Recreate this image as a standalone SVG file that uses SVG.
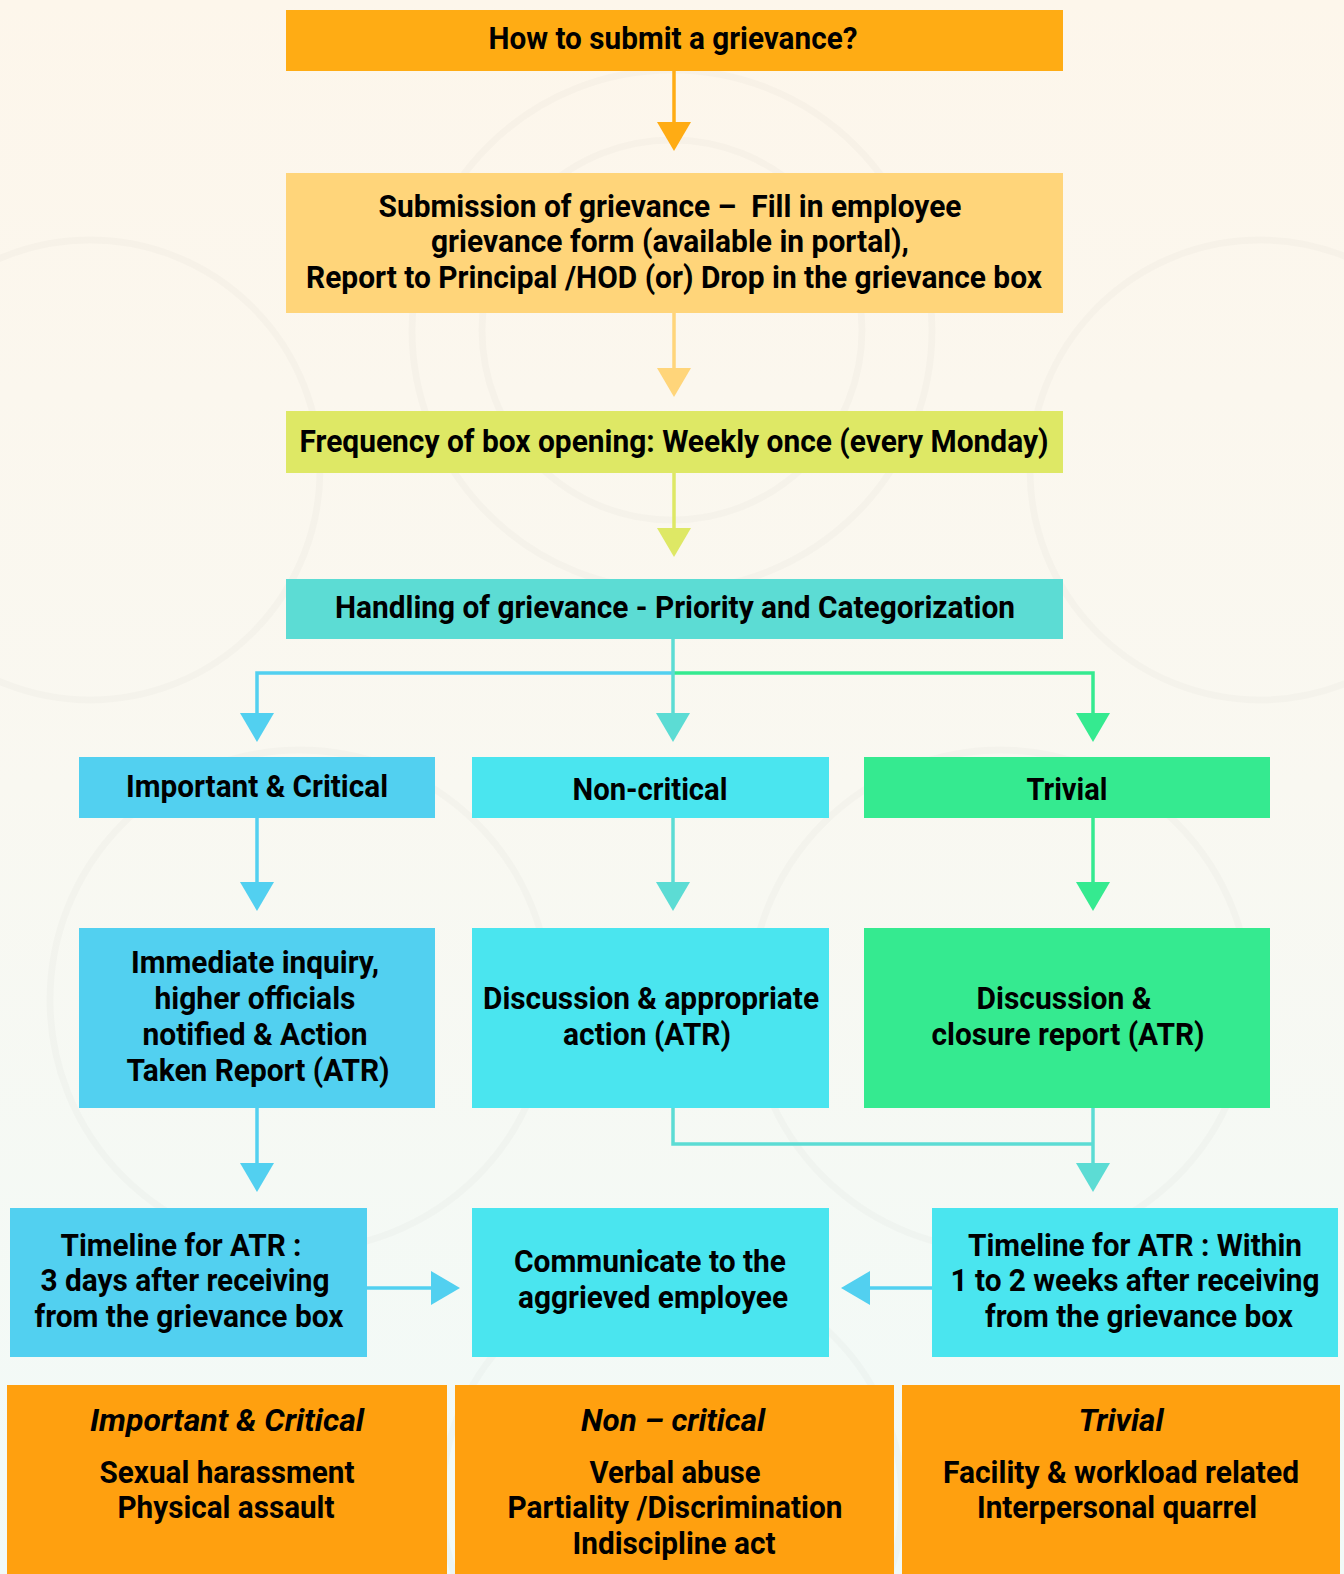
<svg xmlns="http://www.w3.org/2000/svg" width="1344" height="1574" viewBox="0 0 1344 1574">
<defs>
<linearGradient id="bg" x1="0" y1="0" x2="0" y2="1">
<stop offset="0" stop-color="#FDF6EB"/>
<stop offset="0.5" stop-color="#F9F8F1"/>
<stop offset="1" stop-color="#F1FAF8"/>
</linearGradient>
<marker id="mOr" viewBox="0 0 29 34" refX="0" refY="17" markerWidth="29" markerHeight="34" markerUnits="userSpaceOnUse" orient="auto"><path d="M0,0 L29,17 L0,34 Z" fill="#FFAC14"/></marker>
<marker id="mLo" viewBox="0 0 29 34" refX="0" refY="17" markerWidth="29" markerHeight="34" markerUnits="userSpaceOnUse" orient="auto"><path d="M0,0 L29,17 L0,34 Z" fill="#FFD57A"/></marker>
<marker id="mYg" viewBox="0 0 29 34" refX="0" refY="17" markerWidth="29" markerHeight="34" markerUnits="userSpaceOnUse" orient="auto"><path d="M0,0 L29,17 L0,34 Z" fill="#DEE865"/></marker>
<marker id="mBl" viewBox="0 0 29 34" refX="0" refY="17" markerWidth="29" markerHeight="34" markerUnits="userSpaceOnUse" orient="auto"><path d="M0,0 L29,17 L0,34 Z" fill="#52D0F0"/></marker>
<marker id="mTq" viewBox="0 0 29 34" refX="0" refY="17" markerWidth="29" markerHeight="34" markerUnits="userSpaceOnUse" orient="auto"><path d="M0,0 L29,17 L0,34 Z" fill="#5CDCD4"/></marker>
<marker id="mGr" viewBox="0 0 29 34" refX="0" refY="17" markerWidth="29" markerHeight="34" markerUnits="userSpaceOnUse" orient="auto"><path d="M0,0 L29,17 L0,34 Z" fill="#35EA90"/></marker>
</defs>
<style>
.t{font-family:Roboto,"Liberation Sans",sans-serif;font-weight:700;font-size:31px;fill:#000;text-anchor:middle}
.i{font-style:italic}
.c{fill:none;stroke-width:3.5}
.deco{fill:none;stroke:#000;stroke-opacity:0.018;stroke-width:7}
</style>
<rect x="0" y="0" width="1344" height="1574" fill="url(#bg)"/>
<g id="background-pattern">
<circle class="deco" cx="672" cy="330" r="260"/>
<circle class="deco" cx="672" cy="330" r="190"/>
<circle class="deco" cx="90" cy="470" r="230"/>
<circle class="deco" cx="1260" cy="470" r="230"/>
<circle class="deco" cx="300" cy="1000" r="250"/>
<circle class="deco" cx="1000" cy="1000" r="250"/>
<circle class="deco" cx="672" cy="1500" r="230"/>
</g>

<g id="connectors">
<path class="c" stroke="#FFAC14" d="M674,71 V122" marker-end="url(#mOr)"/>
<path class="c" stroke="#FFD57A" d="M674,313 V368" marker-end="url(#mLo)"/>
<path class="c" stroke="#DEE865" d="M674,473 V528" marker-end="url(#mYg)"/>
<path class="c" stroke="#52D0F0" d="M673,673 H257 V713" marker-end="url(#mBl)"/>
<path class="c" stroke="#35EA90" d="M673,673 H1093 V713" marker-end="url(#mGr)"/>
<path class="c" stroke="#5CDCD4" d="M673,639 V713" marker-end="url(#mTq)"/>
<path class="c" stroke="#52D0F0" d="M257,818 V882" marker-end="url(#mBl)"/>
<path class="c" stroke="#5CDCD4" d="M673,818 V882" marker-end="url(#mTq)"/>
<path class="c" stroke="#35EA90" d="M1093,818 V882" marker-end="url(#mGr)"/>
<path class="c" stroke="#52D0F0" d="M257,1108 V1163" marker-end="url(#mBl)"/>
<path class="c" stroke="#5CDCD4" d="M673,1108 V1144 H1093"/>
<path class="c" stroke="#5CDCD4" d="M1093,1108 V1163" marker-end="url(#mTq)"/>
<path class="c" stroke="#52D0F0" d="M367,1288 H431" marker-end="url(#mBl)"/>
<path class="c" stroke="#52D0F0" d="M932,1288 H870" marker-end="url(#mBl)"/>
</g>

<g id="n-title">
<rect x="286" y="10" width="777" height="61" fill="#FFAC14"/>
<text class="t" x="673" y="49" textLength="369" lengthAdjust="spacingAndGlyphs">How to submit a grievance?</text>
</g>
<g id="n-submission">
<rect x="286" y="173" width="777" height="140" fill="#FFD57A"/>
<text class="t" x="670" y="217" textLength="583" lengthAdjust="spacingAndGlyphs" xml:space="preserve">Submission of grievance –  Fill in employee</text>
<text class="t" x="670" y="252" textLength="478" lengthAdjust="spacingAndGlyphs">grievance form (available in portal),</text>
<text class="t" x="674" y="288" textLength="736" lengthAdjust="spacingAndGlyphs">Report to Principal /HOD (or) Drop in the grievance box</text>
</g>
<g id="n-frequency">
<rect x="286" y="411" width="777" height="62" fill="#DEE865"/>
<text class="t" x="674" y="452" textLength="749" lengthAdjust="spacingAndGlyphs">Frequency of box opening: Weekly once (every Monday)</text>
</g>
<g id="n-handling">
<rect x="286" y="579" width="777" height="60" fill="#5CDCD4"/>
<text class="t" x="675" y="618" textLength="680" lengthAdjust="spacingAndGlyphs">Handling of grievance - Priority and Categorization</text>
</g>

<g id="n-important">
<rect x="79" y="757" width="356" height="61" fill="#52D0F0"/>
<text class="t" x="257" y="797" textLength="262" lengthAdjust="spacingAndGlyphs">Important &amp; Critical</text>
</g>
<g id="n-noncritical">
<rect x="472" y="757" width="357" height="61" fill="#4AE5EF"/>
<text class="t" x="650" y="800" textLength="155" lengthAdjust="spacingAndGlyphs">Non-critical</text>
</g>
<g id="n-trivial">
<rect x="864" y="757" width="406" height="61" fill="#35EA90"/>
<text class="t" x="1067" y="800" textLength="81" lengthAdjust="spacingAndGlyphs">Trivial</text>
</g>

<g id="n-immediate">
<rect x="79" y="928" width="356" height="180" fill="#52D0F0"/>
<text class="t" x="255" y="973" textLength="248" lengthAdjust="spacingAndGlyphs">Immediate inquiry,</text>
<text class="t" x="255" y="1009" textLength="201" lengthAdjust="spacingAndGlyphs">higher officials</text>
<text class="t" x="255" y="1045" textLength="225" lengthAdjust="spacingAndGlyphs">notified &amp; Action</text>
<text class="t" x="258" y="1081" textLength="263" lengthAdjust="spacingAndGlyphs">Taken Report (ATR)</text>
</g>
<g id="n-discussion-action">
<rect x="472" y="928" width="357" height="180" fill="#4AE5EF"/>
<text class="t" x="651" y="1009" textLength="336" lengthAdjust="spacingAndGlyphs">Discussion &amp; appropriate</text>
<text class="t" x="647" y="1045" textLength="168" lengthAdjust="spacingAndGlyphs">action (ATR)</text>
</g>
<g id="n-discussion-closure">
<rect x="864" y="928" width="406" height="180" fill="#35EA90"/>
<text class="t" x="1064" y="1009" textLength="175" lengthAdjust="spacingAndGlyphs">Discussion &amp;</text>
<text class="t" x="1068" y="1045" textLength="273" lengthAdjust="spacingAndGlyphs">closure report (ATR)</text>
</g>

<g id="n-timeline-3days">
<rect x="10" y="1208" width="357" height="149" fill="#52D0F0"/>
<text class="t" x="181" y="1256" textLength="241" lengthAdjust="spacingAndGlyphs">Timeline for ATR :</text>
<text class="t" x="185" y="1291" textLength="289" lengthAdjust="spacingAndGlyphs">3 days after receiving</text>
<text class="t" x="189" y="1327" textLength="309" lengthAdjust="spacingAndGlyphs">from the grievance box</text>
</g>
<g id="n-communicate">
<rect x="472" y="1208" width="357" height="149" fill="#4AE5EF"/>
<text class="t" x="650" y="1272" textLength="272" lengthAdjust="spacingAndGlyphs">Communicate to the</text>
<text class="t" x="653" y="1308" textLength="270" lengthAdjust="spacingAndGlyphs">aggrieved employee</text>
</g>
<g id="n-timeline-weeks">
<rect x="932" y="1208" width="406" height="149" fill="#4AE5EF"/>
<text class="t" x="1135" y="1256" textLength="334" lengthAdjust="spacingAndGlyphs">Timeline for ATR : Within</text>
<text class="t" x="1135" y="1291" textLength="369" lengthAdjust="spacingAndGlyphs">1 to 2 weeks after receiving</text>
<text class="t" x="1139" y="1327" textLength="308" lengthAdjust="spacingAndGlyphs">from the grievance box</text>
</g>

<g id="n-legend-important">
<rect x="7" y="1385" width="440" height="189" fill="#FFA00F"/>
<text class="t i" x="227" y="1431" textLength="274" lengthAdjust="spacingAndGlyphs">Important &amp; Critical</text>
<text class="t" x="227" y="1483" textLength="255" lengthAdjust="spacingAndGlyphs">Sexual harassment</text>
<text class="t" x="226" y="1518" textLength="217" lengthAdjust="spacingAndGlyphs">Physical assault</text>
</g>
<g id="n-legend-noncritical">
<rect x="455" y="1385" width="439" height="189" fill="#FFA00F"/>
<text class="t i" x="673" y="1431" textLength="184" lengthAdjust="spacingAndGlyphs">Non – critical</text>
<text class="t" x="675" y="1483" textLength="171" lengthAdjust="spacingAndGlyphs">Verbal abuse</text>
<text class="t" x="675" y="1518" textLength="335" lengthAdjust="spacingAndGlyphs">Partiality /Discrimination</text>
<text class="t" x="674" y="1554" textLength="203" lengthAdjust="spacingAndGlyphs">Indiscipline act</text>
</g>
<g id="n-legend-trivial">
<rect x="902" y="1385" width="438" height="189" fill="#FFA00F"/>
<text class="t i" x="1121" y="1431" textLength="85" lengthAdjust="spacingAndGlyphs">Trivial</text>
<text class="t" x="1121" y="1483" textLength="356" lengthAdjust="spacingAndGlyphs">Facility &amp; workload related</text>
<text class="t" x="1117" y="1518" textLength="280" lengthAdjust="spacingAndGlyphs">Interpersonal quarrel</text>
</g>
</svg>
